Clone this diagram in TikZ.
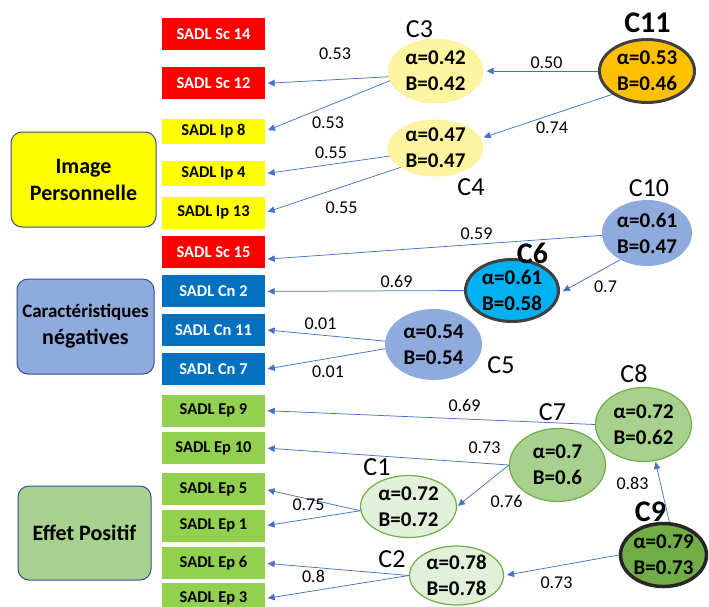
\documentclass[tikz,border=0pt]{standalone}
\usepackage{fontspec}
\setmainfont{Carlito}
\usetikzlibrary{arrows.meta,positioning,shapes.geometric}
\definecolor{arrowblue}{RGB}{68,114,196}
\definecolor{sadlred}{RGB}{255,0,0}
\definecolor{sadlyellow}{RGB}{255,255,0}
\definecolor{sadlblue}{RGB}{0,112,192}
\definecolor{sadlgreen}{RGB}{146,208,80}
\definecolor{catblue}{RGB}{143,170,220}
\definecolor{catgreen}{RGB}{169,209,142}
\definecolor{catedge}{RGB}{47,82,143}
\definecolor{paleyellow}{RGB}{255,245,160}
\definecolor{goldedge}{RGB}{255,230,153}
\definecolor{orangegold}{RGB}{255,192,0}
\definecolor{skyblue}{RGB}{0,176,240}
\definecolor{leafgreen}{RGB}{112,173,71}
\definecolor{palegreen}{RGB}{226,240,217}
\definecolor{darkrim}{RGB}{64,64,64}
\newcommand{\fsz}[2]{\fontsize{#1}{#2}\selectfont}

\begin{document}
\begin{tikzpicture}[
  x=1pt, y=-1pt,
  sadl/.style={minimum width=103pt, minimum height=32pt, inner sep=0pt,
    font=\fsz{16.5}{20}\bfseries},
  redbox/.style={sadl, fill=sadlred, text=white},
  yellowbox/.style={sadl, fill=sadlyellow, minimum height=25pt},
  bluebox/.style={sadl, fill=sadlblue, text=white},
  greenbox/.style={sadl, fill=sadlgreen},
  cat/.style={draw=catedge, line width=1pt, rounded corners=11pt,
    align=center, inner sep=0pt, font=\fsz{22}{27}\bfseries},
  clus/.style={ellipse, inner sep=0pt, align=center, font=\fsz{21}{26}\bfseries},
  lightrim/.style={draw=leafgreen, line width=1.2pt},
  heavyrim/.style={draw=darkrim, line width=3pt},
  cname/.style={inner sep=0pt, font=\fsz{26}{26}},
  cbold/.style={inner sep=0pt, font=\fsz{30}{30}\bfseries},
  lbl/.style={inner sep=0pt, font=\fsz{18}{18}},
  arr/.style={-{Triangle[length=7pt,width=6.5pt]}, arrowblue, line width=0.75pt}
]
\useasboundingbox (0,0) rectangle (709,606);

% item column
\node[redbox] (sc14) at (213.5,34) {SADL Sc 14};
\node[redbox, below=17pt of sc14] (sc12) {SADL Sc 12};
\node[yellowbox, below=19pt of sc12] (ip8) {SADL Ip 8};
\node[yellowbox, below=17pt of ip8] (ip4) {SADL Ip 4};
\node[yellowbox, below=10pt of ip4, minimum height=32pt] (ip13) {SADL Ip 13};
\node[redbox, below=7pt of ip13] (sc15) {SADL Sc 15};
\node[bluebox, below=7pt of sc15] (cn2) {SADL Cn 2};
\node[bluebox, below=6pt of cn2] (cn11) {SADL Cn 11};
\node[bluebox, below=7pt of cn11] (cn7) {SADL Cn 7};
\node[greenbox, below=9pt of cn7] (ep9) {SADL Ep 9};
\node[greenbox, below=5pt of ep9] (ep10) {SADL Ep 10};
\node[greenbox, below=9pt of ep10] (ep5) {SADL Ep 5};
\node[greenbox, below=4pt of ep5] (ep1) {SADL Ep 1};
\node[greenbox, below=5pt of ep1] (ep6) {SADL Ep 6};
\node[greenbox, below=3pt of ep6] (ep3) {SADL Ep 3};

% dimensions
\node[cat, fill=sadlyellow, minimum width=145pt, minimum height=95pt] (image)
  at (83.5,179.5) {Image\\Personnelle};
\node[cat, fill=catblue, minimum width=137pt, minimum height=95pt] (negat)
  at (85.5,326.5) {{\fsz{19}{27}Caractéristiques}\\négatives};
\node[cat, fill=catgreen, minimum width=133pt, minimum height=94pt] (effet)
  at (84.5,533) {Effet Positif};

% clusters
\node[clus, fill=paleyellow, draw=goldedge, minimum width=95pt, minimum height=64pt]
  (c3) at (435.5,71) {α=0.42\\B=0.42};
\node[clus, fill=paleyellow, draw=goldedge, minimum width=95pt, minimum height=54pt]
  (c4) at (435.5,148) {α=0.47\\B=0.47};
\node[clus, fill=orangegold, heavyrim, minimum width=95pt, minimum height=63pt]
  (c11) at (647,71) {α=0.53\\B=0.46};
\node[clus, fill=catblue, minimum width=90pt, minimum height=66pt]
  (c10) at (647,233) {α=0.61\\B=0.47};
\node[clus, fill=skyblue, heavyrim, minimum width=93pt, minimum height=62pt]
  (c6) at (512,290.5) {α=0.61\\B=0.58};
\node[clus, fill=catblue, minimum width=97pt, minimum height=71pt]
  (c5) at (433.5,344.5) {α=0.54\\B=0.54};
\node[clus, fill=catgreen, lightrim, minimum width=96pt, minimum height=74pt]
  (c8) at (643.5,424.5) {α=0.72\\B=0.62};
\node[clus, fill=catgreen, lightrim, minimum width=96pt, minimum height=73pt]
  (c7) at (557.5,465) {α=0.7\\B=0.6};
\node[clus, fill=palegreen, lightrim, minimum width=96pt, minimum height=62pt]
  (c1) at (408.5,506.5) {α=0.72\\B=0.72};
\node[clus, fill=palegreen, lightrim, minimum width=94pt, minimum height=59pt]
  (c2) at (456.5,575.5) {α=0.78\\B=0.78};
\node[clus, fill=leafgreen, draw=black!85, line width=3.5pt, minimum width=86pt, minimum height=63pt]
  (c9) at (663.5,555) {α=0.79\\B=0.73};

% cluster names
\node[cname] (n3) at (419.5,29) {C3};
\node[cname] (n4) at (471,187) {C4};
\node[cbold] (n11) at (647.5,23) {C11};
\node[cname] (n10) at (649,188) {C10};
\node[cbold] (n6) at (532.5,253) {C6};
\node[cname] (n5) at (501,365) {C5};
\node[cname] (n8) at (634,374) {C8};
\node[cname] (n7) at (552.5,412) {C7};
\node[cname] (n1) at (377,467) {C1};
\node[cname] (n2) at (392,559) {C2};
\node[cbold] (n9) at (650.5,512) {C9};

% links
\draw[arr, shorten >=2.5pt] (c3.187) -- (sc12.east);
\draw[arr, shorten >=3pt] (c3.192) -- (ip8.east);
\draw[arr, shorten >=3.5pt] (c11.west) -- (c3.east);
\draw[arr, shorten >=3.5pt] (c11.214) -- (c4.12);
\draw[arr, shorten >=2.5pt] (c4.190) -- (ip4.east);
\draw[arr, shorten >=2.5pt] (c4.209) -- (ip13.east);
\draw[arr, shorten >=2.5pt] (c10.183) -- (sc15.-8);
\draw[arr, shorten >=3.5pt] (c10.225) -- (c6.-3);
\draw[arr, shorten >=2.5pt] (c6.west) -- (cn2.east);
\draw[arr, shorten >=2.5pt] (c5.176) -- (cn11.east);
\draw[arr, shorten >=2.5pt] (c5.185) -- (cn7.east);
\draw[arr, shorten >=2.5pt] (c8.west) -- (ep9.east);
\draw[arr, shorten >=2.5pt] (c7.west) -- (ep10.east);
\draw[arr, shorten >=1pt] (c7.west) -- (c1.east);
\draw[arr, shorten >=2.5pt] (c1.185) -- (ep5.east);
\draw[arr, shorten >=2.5pt] (c1.185) -- (ep1.east);
\draw[arr, shorten >=2.5pt] (c2.west) -- (ep6.east);
\draw[arr, shorten >=2.5pt] (c2.west) -- (ep3.east);
\draw[arr, shorten >=3pt] (c9.west) -- (c2.east);
\draw[arr, shorten >=1pt] (c9.80) -- (c8.-72);

% loadings
\node[lbl] (w1) at (335,54) {0.53};
\node[lbl] (w2) at (328,122.5) {0.53};
\node[lbl] (w3) at (331,153) {0.55};
\node[lbl] (w4) at (341.5,207.5) {0.55};
\node[lbl] (w5) at (546.5,63) {0.50};
\node[lbl] (w6) at (552,127.5) {0.74};
\node[lbl] (w7) at (476.5,234) {0.59};
\node[lbl] (w8) at (396.5,281) {0.69};
\node[lbl] (w9) at (605.5,287) {0.7};
\node[lbl] (w10) at (320.5,324) {0.01};
\node[lbl] (w11) at (328,372) {0.01};
\node[lbl] (w12) at (464.5,405) {0.69};
\node[lbl] (w13) at (484.5,448) {0.73};
\node[lbl] (w14) at (506.5,501) {0.76};
\node[lbl] (w15) at (308.5,505) {0.75};
\node[lbl] (w16) at (313.5,576) {0.8};
\node[lbl] (w17) at (632.5,483) {0.83};
\node[lbl] (w18) at (556.5,583) {0.73};
\end{tikzpicture}
\end{document}
